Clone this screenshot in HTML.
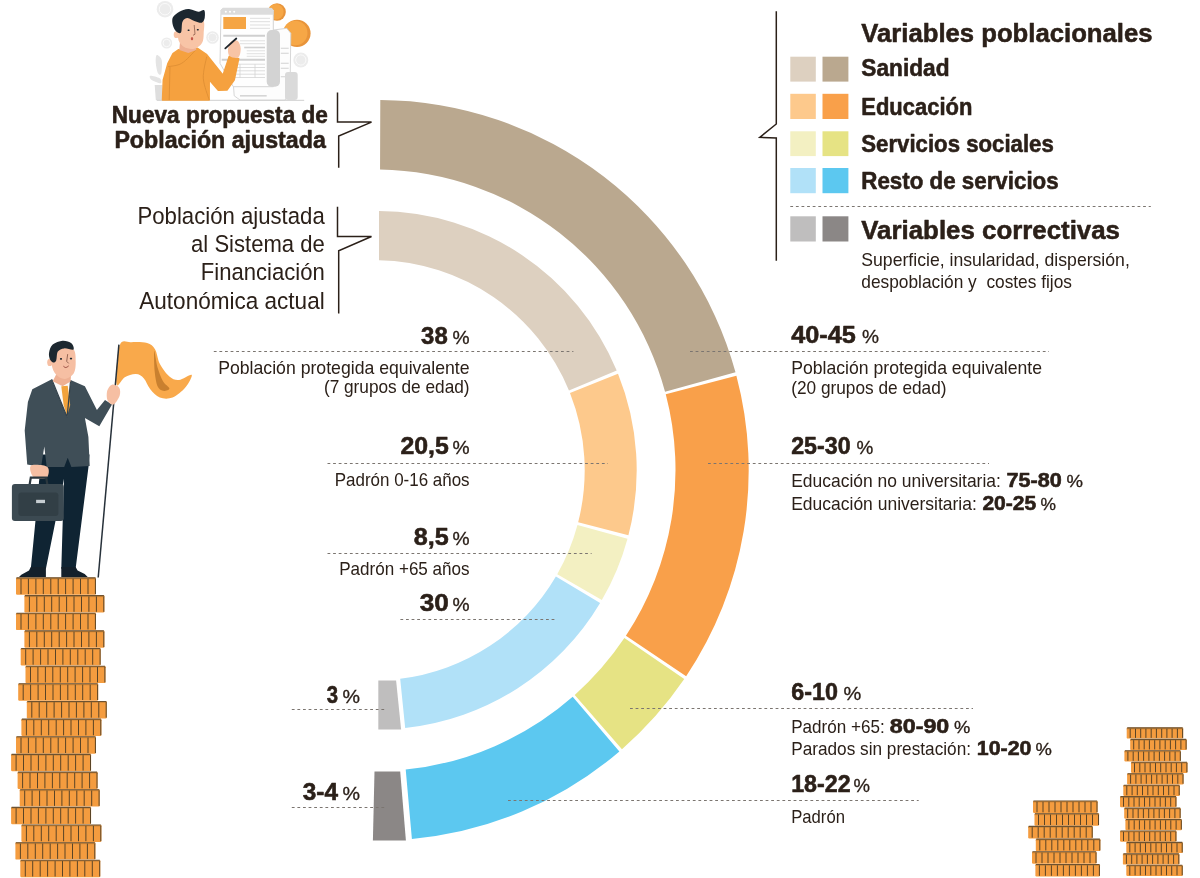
<!DOCTYPE html>
<html lang="es"><head><meta charset="utf-8"><title>Población ajustada</title>
<style>
html,body{margin:0;padding:0;background:#fff;}
body{width:1200px;height:878px;overflow:hidden;}
svg{display:block;}
text{font-family:"Liberation Sans",sans-serif;fill:#2b2019;}
.p{stroke:#2b2019;stroke-width:.3px;}
.b{font-weight:bold;stroke:#2b2019;stroke-width:.55px;stroke-linejoin:round;}
</style></head><body>
<svg width="1200" height="878" viewBox="0 0 1200 878">
<path d="M380.29 100.10A370.2 370.2 0 0 1 735.50 372.34L665.05 391.70A300.9 300.9 0 0 0 380.05 169.45Z" fill="#baa88f"/>
<path d="M736.39 375.64A370.2 370.2 0 0 1 686.16 676.20L625.90 635.80A300.9 300.9 0 0 0 665.76 394.35Z" fill="#f9a04a"/>
<path d="M684.25 679.03A370.2 370.2 0 0 1 621.97 749.17L574.75 694.98A300.9 300.9 0 0 0 624.37 638.09Z" fill="#e6e384"/>
<path d="M619.39 751.41A370.2 370.2 0 0 1 411.90 838.99L405.71 769.59A300.9 300.9 0 0 0 572.69 696.80Z" fill="#5cc8f0"/>
<path d="M379.00 211.10A259.2 259.2 0 0 1 616.71 370.48L568.97 390.53A210.1 210.1 0 0 0 379.00 260.25Z" fill="#ddd0c0"/>
<path d="M618.00 373.63A259.2 259.2 0 0 1 628.40 535.36L578.17 522.26A210.1 210.1 0 0 0 569.98 393.05Z" fill="#fdc98c"/>
<path d="M627.52 538.65A259.2 259.2 0 0 1 601.85 600.11L557.25 574.13A210.1 210.1 0 0 0 577.48 524.89Z" fill="#f3f0c2"/>
<path d="M600.12 603.05A259.2 259.2 0 0 1 405.18 728.02L400.18 678.84A210.1 210.1 0 0 0 555.89 576.49Z" fill="#b1e1f8"/>
<polygon points="378.3,680.5 396.1,680.5 401.1,729.4 378.3,729.4" fill="#bfbebe"/>
<polygon points="374.5,771.5 400.2,771.5 405.9,840.5 372.9,840.5" fill="#8b8786"/>
<line x1="213.8" y1="351.5" x2="573.4" y2="351.5" stroke="#7b7570" stroke-width="1" stroke-dasharray="2.8 2.8"/>
<line x1="690" y1="351.5" x2="1049" y2="351.5" stroke="#7b7570" stroke-width="1" stroke-dasharray="2.8 2.8"/>
<line x1="327.5" y1="463.5" x2="608" y2="463.5" stroke="#7b7570" stroke-width="1" stroke-dasharray="2.8 2.8"/>
<line x1="708" y1="463.5" x2="989" y2="463.5" stroke="#7b7570" stroke-width="1" stroke-dasharray="2.8 2.8"/>
<line x1="327.5" y1="553.5" x2="591.6" y2="553.5" stroke="#7b7570" stroke-width="1" stroke-dasharray="2.8 2.8"/>
<line x1="400.4" y1="619.5" x2="555.2" y2="619.5" stroke="#7b7570" stroke-width="1" stroke-dasharray="2.8 2.8"/>
<line x1="291.8" y1="709.5" x2="384.3" y2="709.5" stroke="#7b7570" stroke-width="1" stroke-dasharray="2.8 2.8"/>
<line x1="630" y1="708.5" x2="973" y2="708.5" stroke="#7b7570" stroke-width="1" stroke-dasharray="2.8 2.8"/>
<line x1="291.8" y1="807.5" x2="384.3" y2="807.5" stroke="#7b7570" stroke-width="1" stroke-dasharray="2.8 2.8"/>
<line x1="508" y1="800.5" x2="918.7" y2="800.5" stroke="#7b7570" stroke-width="1" stroke-dasharray="2.8 2.8"/>
<line x1="790.3" y1="206.5" x2="1150.8" y2="206.5" stroke="#7b7570" stroke-width="1" stroke-dasharray="2.8 2.8"/>
<text x="111.8" y="123.3" font-size="23.2" class="b" textLength="216.1" lengthAdjust="spacingAndGlyphs">Nueva propuesta de</text>
<text x="114.4" y="148.1" font-size="23.6" class="b" textLength="211.4" lengthAdjust="spacingAndGlyphs">Población ajustada</text>
<text x="137.5" y="224.1" font-size="24.3" textLength="187.2" lengthAdjust="spacingAndGlyphs">Población ajustada</text>
<text x="191.1" y="252.4" font-size="24.3" textLength="133.6" lengthAdjust="spacingAndGlyphs">al Sistema de</text>
<text x="200.8" y="280.4" font-size="24.3" textLength="123.9" lengthAdjust="spacingAndGlyphs">Financiación</text>
<text x="139.3" y="308.7" font-size="24.3" textLength="185.4" lengthAdjust="spacingAndGlyphs">Autonómica actual</text>
<text x="421.1" y="343.5" font-size="23.6" class="b" textLength="26.6" lengthAdjust="spacingAndGlyphs">38</text>
<text x="452.5" y="343.5" font-size="19" class="p" textLength="17.1" lengthAdjust="spacingAndGlyphs">%</text>
<text x="218.2" y="373.8" font-size="18.4" textLength="251.4" lengthAdjust="spacingAndGlyphs">Población protegida equivalente</text>
<text x="323.9" y="393" font-size="18.4" textLength="145.7" lengthAdjust="spacingAndGlyphs">(7 grupos de edad)</text>
<text x="400.4" y="453.9" font-size="23.6" class="b" textLength="48.4" lengthAdjust="spacingAndGlyphs">20,5</text>
<text x="452.5" y="453.9" font-size="19" class="p" textLength="17.1" lengthAdjust="spacingAndGlyphs">%</text>
<text x="334.8" y="485.6" font-size="18.4" textLength="134.8" lengthAdjust="spacingAndGlyphs">Padrón 0-16 años</text>
<text x="413.8" y="545" font-size="23.6" class="b" textLength="35.0" lengthAdjust="spacingAndGlyphs">8,5</text>
<text x="452.5" y="545" font-size="19" class="p" textLength="17.1" lengthAdjust="spacingAndGlyphs">%</text>
<text x="339.2" y="574.8" font-size="18.4" textLength="130.4" lengthAdjust="spacingAndGlyphs">Padrón +65 años</text>
<text x="419.7" y="610.5" font-size="23.6" class="b" textLength="29.1" lengthAdjust="spacingAndGlyphs">30</text>
<text x="452.5" y="610.5" font-size="19" class="p" textLength="17.1" lengthAdjust="spacingAndGlyphs">%</text>
<text x="326.7" y="702.6" font-size="23.6" class="b" textLength="11.3" lengthAdjust="spacingAndGlyphs">3</text>
<text x="342.6" y="702.6" font-size="19" class="p" textLength="17.5" lengthAdjust="spacingAndGlyphs">%</text>
<text x="302.8" y="800" font-size="23.6" class="b" textLength="35.2" lengthAdjust="spacingAndGlyphs">3-4</text>
<text x="342.6" y="800" font-size="19" class="p" textLength="17.5" lengthAdjust="spacingAndGlyphs">%</text>
<text x="791.2" y="343.4" font-size="23.6" class="b" textLength="64.6" lengthAdjust="spacingAndGlyphs">40-45</text>
<text x="862" y="343.4" font-size="19" class="p" textLength="17.0" lengthAdjust="spacingAndGlyphs">%</text>
<text x="791.2" y="373.8" font-size="18.4" textLength="250.8" lengthAdjust="spacingAndGlyphs">Población protegida equivalente</text>
<text x="791.2" y="394.4" font-size="18.4" textLength="155.3" lengthAdjust="spacingAndGlyphs">(20 grupos de edad)</text>
<text x="791.2" y="454" font-size="23.6" class="b" textLength="59.5" lengthAdjust="spacingAndGlyphs">25-30</text>
<text x="856.5" y="454" font-size="19" class="p" textLength="16.8" lengthAdjust="spacingAndGlyphs">%</text>
<text x="791.2" y="487.1" font-size="18.4" textLength="209.7" lengthAdjust="spacingAndGlyphs">Educación no universitaria:</text>
<text x="1006.5" y="487.1" font-size="19.4" class="b" textLength="55.3" lengthAdjust="spacingAndGlyphs">75-80</text>
<text x="1066.5" y="487.1" font-size="17" class="p" textLength="16.5" lengthAdjust="spacingAndGlyphs">%</text>
<text x="791.2" y="509.8" font-size="18.4" textLength="185.6" lengthAdjust="spacingAndGlyphs">Educación universitaria:</text>
<text x="982.4" y="509.8" font-size="19.4" class="b" textLength="53.9" lengthAdjust="spacingAndGlyphs">20-25</text>
<text x="1040.5" y="509.8" font-size="17" class="p" textLength="15.5" lengthAdjust="spacingAndGlyphs">%</text>
<text x="791.2" y="700.3" font-size="23.6" class="b" textLength="46.7" lengthAdjust="spacingAndGlyphs">6-10</text>
<text x="843.6" y="700.3" font-size="19" class="p" textLength="17.8" lengthAdjust="spacingAndGlyphs">%</text>
<text x="791.2" y="732.9" font-size="18.4" textLength="93.5" lengthAdjust="spacingAndGlyphs">Padrón +65:</text>
<text x="889.8" y="732.9" font-size="19.4" class="b" textLength="59.5" lengthAdjust="spacingAndGlyphs">80-90</text>
<text x="954" y="732.9" font-size="17" class="p" textLength="16.3" lengthAdjust="spacingAndGlyphs">%</text>
<text x="791.2" y="755" font-size="18.4" textLength="179.8" lengthAdjust="spacingAndGlyphs">Parados sin prestación:</text>
<text x="976.8" y="755" font-size="19.4" class="b" textLength="54.7" lengthAdjust="spacingAndGlyphs">10-20</text>
<text x="1035.5" y="755" font-size="17" class="p" textLength="16.4" lengthAdjust="spacingAndGlyphs">%</text>
<text x="791.2" y="792.4" font-size="23.6" class="b" textLength="59.5" lengthAdjust="spacingAndGlyphs">18-22</text>
<text x="853.5" y="792.4" font-size="19" class="p" textLength="16.5" lengthAdjust="spacingAndGlyphs">%</text>
<text x="791.2" y="823" font-size="18.4" textLength="53.8" lengthAdjust="spacingAndGlyphs">Padrón</text>
<text x="861.3" y="42" font-size="26.4" class="b" textLength="291.2" lengthAdjust="spacingAndGlyphs">Variables poblacionales</text>
<text x="861.3" y="76.3" font-size="23.6" class="b" textLength="88.2" lengthAdjust="spacingAndGlyphs">Sanidad</text>
<text x="861.3" y="114.8" font-size="23.6" class="b" textLength="111.0" lengthAdjust="spacingAndGlyphs">Educación</text>
<text x="861.3" y="151.6" font-size="23.6" class="b" textLength="192.5" lengthAdjust="spacingAndGlyphs">Servicios sociales</text>
<text x="861.3" y="189" font-size="23.6" class="b" textLength="197.4" lengthAdjust="spacingAndGlyphs">Resto de servicios</text>
<text x="861.3" y="238.7" font-size="26.4" class="b" textLength="258.7" lengthAdjust="spacingAndGlyphs">Variables correctivas</text>
<text x="861.3" y="266" font-size="18.4" textLength="268.5" lengthAdjust="spacingAndGlyphs">Superficie, insularidad, dispersión,</text>
<text x="861.3" y="287.7" font-size="18.4" textLength="210.7" lengthAdjust="spacingAndGlyphs">despoblación y  costes fijos</text>
<rect x="790.3" y="56.7" width="25.5" height="24.9" fill="#ddd0c0"/>
<rect x="822.5" y="56.7" width="25.9" height="24.9" fill="#baa88f"/>
<rect x="790.3" y="93.8" width="25.5" height="25.2" fill="#fdc98c"/>
<rect x="822.5" y="93.8" width="25.9" height="25.2" fill="#f9a04a"/>
<rect x="790.3" y="131.3" width="25.5" height="24.8" fill="#f3f0c2"/>
<rect x="822.5" y="131.3" width="25.9" height="24.8" fill="#e6e384"/>
<rect x="790.3" y="168" width="25.5" height="25.2" fill="#b1e1f8"/>
<rect x="822.5" y="168" width="25.9" height="25.2" fill="#5cc8f0"/>
<rect x="790.3" y="216.3" width="25.5" height="25.2" fill="#bfbebe"/>
<rect x="822.5" y="216.3" width="25.9" height="25.2" fill="#8b8786"/>
<path d="M776.3 11.2V124L759.8 137.3L776.3 138V260.8" fill="none" stroke="#2b2019" stroke-width="1.5" stroke-linejoin="miter"/>
<path d="M337.5 92.5V122.1H371.5L338.7 136V167.7" fill="none" stroke="#2b2019" stroke-width="1.5" stroke-linejoin="miter"/>
<path d="M337.5 206.8V236.5H371.5L338.7 250.8V313.5" fill="none" stroke="#2b2019" stroke-width="1.5" stroke-linejoin="miter"/>
<rect x="16.0" y="577.8" width="80" height="17.0" rx="1.2" fill="#f49c3f"/>
<rect x="16.0" y="577.8" width="80" height="1.6" fill="#c98436" opacity=".75"/>
<rect x="24.4" y="595.5" width="80" height="17.0" rx="1.2" fill="#f49c3f"/>
<rect x="24.4" y="595.5" width="80" height="1.6" fill="#c98436" opacity=".75"/>
<rect x="16.0" y="613.1" width="80" height="17.0" rx="1.2" fill="#f49c3f"/>
<rect x="16.0" y="613.1" width="80" height="1.6" fill="#c98436" opacity=".75"/>
<rect x="24.4" y="630.8" width="80" height="17.0" rx="1.2" fill="#f49c3f"/>
<rect x="24.4" y="630.8" width="80" height="1.6" fill="#c98436" opacity=".75"/>
<rect x="20.7" y="648.4" width="80" height="17.0" rx="1.2" fill="#f49c3f"/>
<rect x="20.7" y="648.4" width="80" height="1.6" fill="#c98436" opacity=".75"/>
<rect x="25.5" y="666.1" width="80" height="17.0" rx="1.2" fill="#f49c3f"/>
<rect x="25.5" y="666.1" width="80" height="1.6" fill="#c98436" opacity=".75"/>
<rect x="18.2" y="683.7" width="80" height="17.0" rx="1.2" fill="#f49c3f"/>
<rect x="18.2" y="683.7" width="80" height="1.6" fill="#c98436" opacity=".75"/>
<rect x="26.8" y="701.4" width="80" height="17.0" rx="1.2" fill="#f49c3f"/>
<rect x="26.8" y="701.4" width="80" height="1.6" fill="#c98436" opacity=".75"/>
<rect x="21.4" y="719.0" width="80" height="17.0" rx="1.2" fill="#f49c3f"/>
<rect x="21.4" y="719.0" width="80" height="1.6" fill="#c98436" opacity=".75"/>
<rect x="16.0" y="736.7" width="80" height="17.0" rx="1.2" fill="#f49c3f"/>
<rect x="16.0" y="736.7" width="80" height="1.6" fill="#c98436" opacity=".75"/>
<rect x="11.1" y="754.3" width="80" height="17.0" rx="1.2" fill="#f49c3f"/>
<rect x="11.1" y="754.3" width="80" height="1.6" fill="#c98436" opacity=".75"/>
<rect x="17.6" y="772.0" width="80" height="17.0" rx="1.2" fill="#f49c3f"/>
<rect x="17.6" y="772.0" width="80" height="1.6" fill="#c98436" opacity=".75"/>
<rect x="19.7" y="789.6" width="80" height="17.0" rx="1.2" fill="#f49c3f"/>
<rect x="19.7" y="789.6" width="80" height="1.6" fill="#c98436" opacity=".75"/>
<rect x="11.1" y="807.3" width="80" height="17.0" rx="1.2" fill="#f49c3f"/>
<rect x="11.1" y="807.3" width="80" height="1.6" fill="#c98436" opacity=".75"/>
<rect x="21.4" y="824.9" width="80" height="17.0" rx="1.2" fill="#f49c3f"/>
<rect x="21.4" y="824.9" width="80" height="1.6" fill="#c98436" opacity=".75"/>
<rect x="15.4" y="842.6" width="80" height="17.0" rx="1.2" fill="#f49c3f"/>
<rect x="15.4" y="842.6" width="80" height="1.6" fill="#c98436" opacity=".75"/>
<rect x="20.3" y="860.2" width="80" height="17.0" rx="1.2" fill="#f49c3f"/>
<rect x="20.3" y="860.2" width="80" height="1.6" fill="#c98436" opacity=".75"/>
<path d="M21.0 578.7v15.4M28.4 578.7v15.4M35.9 578.7v15.4M43.3 578.7v15.4M50.8 578.7v15.4M58.2 578.7v15.4M65.6 578.7v15.4M73.1 578.7v15.4M80.5 578.7v15.4M88.0 578.7v15.4M95.4 578.7v15.4M29.4 596.4v15.4M36.8 596.4v15.4M44.3 596.4v15.4M51.7 596.4v15.4M59.2 596.4v15.4M66.6 596.4v15.4M74.0 596.4v15.4M81.5 596.4v15.4M88.9 596.4v15.4M96.4 596.4v15.4M103.8 596.4v15.4M21.0 614.0v15.4M28.4 614.0v15.4M35.9 614.0v15.4M43.3 614.0v15.4M50.8 614.0v15.4M58.2 614.0v15.4M65.6 614.0v15.4M73.1 614.0v15.4M80.5 614.0v15.4M88.0 614.0v15.4M95.4 614.0v15.4M29.4 631.7v15.4M36.8 631.7v15.4M44.3 631.7v15.4M51.7 631.7v15.4M59.2 631.7v15.4M66.6 631.7v15.4M74.0 631.7v15.4M81.5 631.7v15.4M88.9 631.7v15.4M96.4 631.7v15.4M103.8 631.7v15.4M25.7 649.3v15.4M33.1 649.3v15.4M40.6 649.3v15.4M48.0 649.3v15.4M55.5 649.3v15.4M62.9 649.3v15.4M70.3 649.3v15.4M77.8 649.3v15.4M85.2 649.3v15.4M92.7 649.3v15.4M100.1 649.3v15.4M30.5 667.0v15.4M37.9 667.0v15.4M45.4 667.0v15.4M52.8 667.0v15.4M60.3 667.0v15.4M67.7 667.0v15.4M75.1 667.0v15.4M82.6 667.0v15.4M90.0 667.0v15.4M97.5 667.0v15.4M104.9 667.0v15.4M23.2 684.6v15.4M30.6 684.6v15.4M38.1 684.6v15.4M45.5 684.6v15.4M53.0 684.6v15.4M60.4 684.6v15.4M67.8 684.6v15.4M75.3 684.6v15.4M82.7 684.6v15.4M90.2 684.6v15.4M97.6 684.6v15.4M31.8 702.2v15.4M39.2 702.2v15.4M46.7 702.2v15.4M54.1 702.2v15.4M61.6 702.2v15.4M69.0 702.2v15.4M76.4 702.2v15.4M83.9 702.2v15.4M91.3 702.2v15.4M98.8 702.2v15.4M106.2 702.2v15.4M26.4 719.9v15.4M33.8 719.9v15.4M41.3 719.9v15.4M48.7 719.9v15.4M56.2 719.9v15.4M63.6 719.9v15.4M71.0 719.9v15.4M78.5 719.9v15.4M85.9 719.9v15.4M93.4 719.9v15.4M100.8 719.9v15.4M21.0 737.6v15.4M28.4 737.6v15.4M35.9 737.6v15.4M43.3 737.6v15.4M50.8 737.6v15.4M58.2 737.6v15.4M65.6 737.6v15.4M73.1 737.6v15.4M80.5 737.6v15.4M88.0 737.6v15.4M95.4 737.6v15.4M16.1 755.2v15.4M23.5 755.2v15.4M31.0 755.2v15.4M38.4 755.2v15.4M45.9 755.2v15.4M53.3 755.2v15.4M60.7 755.2v15.4M68.2 755.2v15.4M75.6 755.2v15.4M83.1 755.2v15.4M90.5 755.2v15.4M22.6 772.9v15.4M30.0 772.9v15.4M37.5 772.9v15.4M44.9 772.9v15.4M52.4 772.9v15.4M59.8 772.9v15.4M67.2 772.9v15.4M74.7 772.9v15.4M82.1 772.9v15.4M89.6 772.9v15.4M97.0 772.9v15.4M24.7 790.5v15.4M32.1 790.5v15.4M39.6 790.5v15.4M47.0 790.5v15.4M54.5 790.5v15.4M61.9 790.5v15.4M69.3 790.5v15.4M76.8 790.5v15.4M84.2 790.5v15.4M91.7 790.5v15.4M99.1 790.5v15.4M16.1 808.2v15.4M23.5 808.2v15.4M31.0 808.2v15.4M38.4 808.2v15.4M45.9 808.2v15.4M53.3 808.2v15.4M60.7 808.2v15.4M68.2 808.2v15.4M75.6 808.2v15.4M83.1 808.2v15.4M90.5 808.2v15.4M26.4 825.8v15.4M33.8 825.8v15.4M41.3 825.8v15.4M48.7 825.8v15.4M56.2 825.8v15.4M63.6 825.8v15.4M71.0 825.8v15.4M78.5 825.8v15.4M85.9 825.8v15.4M93.4 825.8v15.4M100.8 825.8v15.4M20.4 843.5v15.4M27.8 843.5v15.4M35.3 843.5v15.4M42.7 843.5v15.4M50.2 843.5v15.4M57.6 843.5v15.4M65.0 843.5v15.4M72.5 843.5v15.4M79.9 843.5v15.4M87.4 843.5v15.4M94.8 843.5v15.4M25.3 861.1v15.4M32.7 861.1v15.4M40.2 861.1v15.4M47.6 861.1v15.4M55.1 861.1v15.4M62.5 861.1v15.4M69.9 861.1v15.4M77.4 861.1v15.4M84.8 861.1v15.4M92.3 861.1v15.4M99.7 861.1v15.4" stroke="#5a4426" stroke-width="1" fill="none"/>
<path d="M16.5 577.9h79M24.9 595.6h79M16.5 613.2h79M24.9 630.9h79M21.2 648.5h79M26.0 666.2h79M18.7 683.8h79M27.3 701.5h79M21.9 719.1h79M16.5 736.8h79M11.6 754.4h79M18.1 772.1h79M20.2 789.7h79M11.6 807.4h79M21.9 825.0h79M15.9 842.7h79M20.8 860.3h79" stroke="#6e5230" stroke-width="1.1" fill="none"/>
<rect x="1033.0" y="800.9" width="64.6" height="12.1" rx="1.2" fill="#f49c3f"/>
<rect x="1033.0" y="800.9" width="64.6" height="1.6" fill="#c98436" opacity=".75"/>
<rect x="1034.5" y="813.6" width="64.6" height="12.1" rx="1.2" fill="#f49c3f"/>
<rect x="1034.5" y="813.6" width="64.6" height="1.6" fill="#c98436" opacity=".75"/>
<rect x="1028.2" y="826.3" width="64.6" height="12.1" rx="1.2" fill="#f49c3f"/>
<rect x="1028.2" y="826.3" width="64.6" height="1.6" fill="#c98436" opacity=".75"/>
<rect x="1035.8" y="839.0" width="64.6" height="12.1" rx="1.2" fill="#f49c3f"/>
<rect x="1035.8" y="839.0" width="64.6" height="1.6" fill="#c98436" opacity=".75"/>
<rect x="1032.0" y="851.7" width="64.6" height="12.1" rx="1.2" fill="#f49c3f"/>
<rect x="1032.0" y="851.7" width="64.6" height="1.6" fill="#c98436" opacity=".75"/>
<rect x="1035.4" y="864.4" width="64.6" height="12.1" rx="1.2" fill="#f49c3f"/>
<rect x="1035.4" y="864.4" width="64.6" height="1.6" fill="#c98436" opacity=".75"/>
<path d="M1037.0 801.8v10.5M1043.0 801.8v10.5M1049.0 801.8v10.5M1055.0 801.8v10.5M1061.0 801.8v10.5M1067.0 801.8v10.5M1073.0 801.8v10.5M1079.0 801.8v10.5M1085.0 801.8v10.5M1091.0 801.8v10.5M1097.0 801.8v10.5M1038.5 814.5v10.5M1044.5 814.5v10.5M1050.5 814.5v10.5M1056.5 814.5v10.5M1062.5 814.5v10.5M1068.5 814.5v10.5M1074.5 814.5v10.5M1080.5 814.5v10.5M1086.5 814.5v10.5M1092.5 814.5v10.5M1098.5 814.5v10.5M1032.2 827.2v10.5M1038.2 827.2v10.5M1044.2 827.2v10.5M1050.2 827.2v10.5M1056.2 827.2v10.5M1062.2 827.2v10.5M1068.2 827.2v10.5M1074.2 827.2v10.5M1080.2 827.2v10.5M1086.2 827.2v10.5M1092.2 827.2v10.5M1039.8 839.9v10.5M1045.8 839.9v10.5M1051.8 839.9v10.5M1057.8 839.9v10.5M1063.8 839.9v10.5M1069.8 839.9v10.5M1075.8 839.9v10.5M1081.8 839.9v10.5M1087.8 839.9v10.5M1093.8 839.9v10.5M1099.8 839.9v10.5M1036.0 852.6v10.5M1042.0 852.6v10.5M1048.0 852.6v10.5M1054.0 852.6v10.5M1060.0 852.6v10.5M1066.0 852.6v10.5M1072.0 852.6v10.5M1078.0 852.6v10.5M1084.0 852.6v10.5M1090.0 852.6v10.5M1096.0 852.6v10.5M1039.4 865.3v10.5M1045.4 865.3v10.5M1051.4 865.3v10.5M1057.4 865.3v10.5M1063.4 865.3v10.5M1069.4 865.3v10.5M1075.4 865.3v10.5M1081.4 865.3v10.5M1087.4 865.3v10.5M1093.4 865.3v10.5M1099.4 865.3v10.5" stroke="#5a4426" stroke-width="1" fill="none"/>
<path d="M1033.5 801.0h63.599999999999994M1035.0 813.7h63.599999999999994M1028.7 826.4h63.599999999999994M1036.3 839.1h63.599999999999994M1032.5 851.8h63.599999999999994M1035.9 864.5h63.599999999999994" stroke="#6e5230" stroke-width="1.1" fill="none"/>
<rect x="1126.7" y="727.8" width="56.5" height="10.8" rx="1.2" fill="#f49c3f"/>
<rect x="1126.7" y="727.8" width="56.5" height="1.6" fill="#c98436" opacity=".75"/>
<rect x="1130.2" y="739.3" width="56.5" height="10.8" rx="1.2" fill="#f49c3f"/>
<rect x="1130.2" y="739.3" width="56.5" height="1.6" fill="#c98436" opacity=".75"/>
<rect x="1124.4" y="750.7" width="56.5" height="10.8" rx="1.2" fill="#f49c3f"/>
<rect x="1124.4" y="750.7" width="56.5" height="1.6" fill="#c98436" opacity=".75"/>
<rect x="1131.0" y="762.2" width="56.5" height="10.8" rx="1.2" fill="#f49c3f"/>
<rect x="1131.0" y="762.2" width="56.5" height="1.6" fill="#c98436" opacity=".75"/>
<rect x="1127.1" y="773.6" width="56.5" height="10.8" rx="1.2" fill="#f49c3f"/>
<rect x="1127.1" y="773.6" width="56.5" height="1.6" fill="#c98436" opacity=".75"/>
<rect x="1123.3" y="785.1" width="56.5" height="10.8" rx="1.2" fill="#f49c3f"/>
<rect x="1123.3" y="785.1" width="56.5" height="1.6" fill="#c98436" opacity=".75"/>
<rect x="1120.0" y="796.5" width="56.5" height="10.8" rx="1.2" fill="#f49c3f"/>
<rect x="1120.0" y="796.5" width="56.5" height="1.6" fill="#c98436" opacity=".75"/>
<rect x="1124.2" y="808.0" width="56.5" height="10.8" rx="1.2" fill="#f49c3f"/>
<rect x="1124.2" y="808.0" width="56.5" height="1.6" fill="#c98436" opacity=".75"/>
<rect x="1125.4" y="819.4" width="56.5" height="10.8" rx="1.2" fill="#f49c3f"/>
<rect x="1125.4" y="819.4" width="56.5" height="1.6" fill="#c98436" opacity=".75"/>
<rect x="1120.0" y="830.9" width="56.5" height="10.8" rx="1.2" fill="#f49c3f"/>
<rect x="1120.0" y="830.9" width="56.5" height="1.6" fill="#c98436" opacity=".75"/>
<rect x="1126.3" y="842.3" width="56.5" height="10.8" rx="1.2" fill="#f49c3f"/>
<rect x="1126.3" y="842.3" width="56.5" height="1.6" fill="#c98436" opacity=".75"/>
<rect x="1122.9" y="853.8" width="56.5" height="10.8" rx="1.2" fill="#f49c3f"/>
<rect x="1122.9" y="853.8" width="56.5" height="1.6" fill="#c98436" opacity=".75"/>
<rect x="1126.3" y="865.2" width="56.5" height="10.8" rx="1.2" fill="#f49c3f"/>
<rect x="1126.3" y="865.2" width="56.5" height="1.6" fill="#c98436" opacity=".75"/>
<path d="M1130.2 728.7v9.2M1135.5 728.7v9.2M1140.7 728.7v9.2M1145.9 728.7v9.2M1151.2 728.7v9.2M1156.4 728.7v9.2M1161.7 728.7v9.2M1166.9 728.7v9.2M1172.1 728.7v9.2M1177.4 728.7v9.2M1182.6 728.7v9.2M1133.7 740.2v9.2M1139.0 740.2v9.2M1144.2 740.2v9.2M1149.4 740.2v9.2M1154.7 740.2v9.2M1159.9 740.2v9.2M1165.2 740.2v9.2M1170.4 740.2v9.2M1175.6 740.2v9.2M1180.9 740.2v9.2M1186.1 740.2v9.2M1127.9 751.6v9.2M1133.2 751.6v9.2M1138.4 751.6v9.2M1143.6 751.6v9.2M1148.9 751.6v9.2M1154.1 751.6v9.2M1159.4 751.6v9.2M1164.6 751.6v9.2M1169.8 751.6v9.2M1175.1 751.6v9.2M1180.3 751.6v9.2M1134.5 763.1v9.2M1139.8 763.1v9.2M1145.0 763.1v9.2M1150.2 763.1v9.2M1155.5 763.1v9.2M1160.7 763.1v9.2M1166.0 763.1v9.2M1171.2 763.1v9.2M1176.4 763.1v9.2M1181.7 763.1v9.2M1186.9 763.1v9.2M1130.6 774.5v9.2M1135.9 774.5v9.2M1141.1 774.5v9.2M1146.3 774.5v9.2M1151.6 774.5v9.2M1156.8 774.5v9.2M1162.1 774.5v9.2M1167.3 774.5v9.2M1172.5 774.5v9.2M1177.8 774.5v9.2M1183.0 774.5v9.2M1126.8 786.0v9.2M1132.1 786.0v9.2M1137.3 786.0v9.2M1142.5 786.0v9.2M1147.8 786.0v9.2M1153.0 786.0v9.2M1158.3 786.0v9.2M1163.5 786.0v9.2M1168.7 786.0v9.2M1174.0 786.0v9.2M1179.2 786.0v9.2M1123.5 797.4v9.2M1128.8 797.4v9.2M1134.0 797.4v9.2M1139.2 797.4v9.2M1144.5 797.4v9.2M1149.7 797.4v9.2M1155.0 797.4v9.2M1160.2 797.4v9.2M1165.4 797.4v9.2M1170.7 797.4v9.2M1175.9 797.4v9.2M1127.7 808.9v9.2M1133.0 808.9v9.2M1138.2 808.9v9.2M1143.4 808.9v9.2M1148.7 808.9v9.2M1153.9 808.9v9.2M1159.2 808.9v9.2M1164.4 808.9v9.2M1169.6 808.9v9.2M1174.9 808.9v9.2M1180.1 808.9v9.2M1128.9 820.3v9.2M1134.2 820.3v9.2M1139.4 820.3v9.2M1144.6 820.3v9.2M1149.9 820.3v9.2M1155.1 820.3v9.2M1160.4 820.3v9.2M1165.6 820.3v9.2M1170.8 820.3v9.2M1176.1 820.3v9.2M1181.3 820.3v9.2M1123.5 831.8v9.2M1128.8 831.8v9.2M1134.0 831.8v9.2M1139.2 831.8v9.2M1144.5 831.8v9.2M1149.7 831.8v9.2M1155.0 831.8v9.2M1160.2 831.8v9.2M1165.4 831.8v9.2M1170.7 831.8v9.2M1175.9 831.8v9.2M1129.8 843.2v9.2M1135.1 843.2v9.2M1140.3 843.2v9.2M1145.5 843.2v9.2M1150.8 843.2v9.2M1156.0 843.2v9.2M1161.3 843.2v9.2M1166.5 843.2v9.2M1171.7 843.2v9.2M1177.0 843.2v9.2M1182.2 843.2v9.2M1126.4 854.7v9.2M1131.7 854.7v9.2M1136.9 854.7v9.2M1142.1 854.7v9.2M1147.4 854.7v9.2M1152.6 854.7v9.2M1157.9 854.7v9.2M1163.1 854.7v9.2M1168.3 854.7v9.2M1173.6 854.7v9.2M1178.8 854.7v9.2M1129.8 866.1v9.2M1135.1 866.1v9.2M1140.3 866.1v9.2M1145.5 866.1v9.2M1150.8 866.1v9.2M1156.0 866.1v9.2M1161.3 866.1v9.2M1166.5 866.1v9.2M1171.7 866.1v9.2M1177.0 866.1v9.2M1182.2 866.1v9.2" stroke="#5a4426" stroke-width="1" fill="none"/>
<path d="M1127.2 727.9h55.5M1130.7 739.4h55.5M1124.9 750.8h55.5M1131.5 762.3h55.5M1127.6 773.7h55.5M1123.8 785.2h55.5M1120.5 796.6h55.5M1124.7 808.1h55.5M1125.9 819.5h55.5M1120.5 831.0h55.5M1126.8 842.4h55.5M1123.4 853.9h55.5M1126.8 865.3h55.5" stroke="#6e5230" stroke-width="1.1" fill="none"/>
<g id="bizman">
<path d="M119.7 345.5C122.1 338.5 126.6 342.6 131.1 342.2C135.7 341.7 143.1 341.8 147.1 343.0C151.1 344.2 152.9 345.9 155.0 349.3C157.2 352.8 157.4 359.2 159.8 363.7C162.2 368.2 166.2 373.7 169.4 376.4C172.6 379.2 175.2 380.2 179.0 379.9C182.7 379.7 190.6 373.6 191.7 374.8C192.8 376.1 188.5 383.8 185.3 387.6C182.1 391.4 176.8 395.8 172.6 397.5C168.3 399.1 163.5 398.9 159.8 397.5C156.1 396.1 152.9 392.4 150.3 389.2C147.6 386.0 146.3 380.9 143.9 378.4C141.5 375.8 139.1 374.2 135.9 374.1C132.7 373.9 128.0 375.6 124.8 377.2C121.5 378.9 117.3 389.4 116.5 384.1C115.6 378.8 117.2 352.5 119.7 345.5Z" fill="#f9a94b"/>
<path d="M154.2 350.9C154.7 350.1 156.0 361.8 157.4 366.9C158.9 371.9 161.0 377.6 163.0 381.2C165.0 384.8 169.4 386.8 169.4 388.4C169.4 390.0 165.0 391.2 163.0 390.8C161.0 390.4 158.8 389.2 157.4 386.0C156.1 382.8 155.3 377.5 154.7 371.7C154.2 365.8 153.8 351.7 154.2 350.9Z" fill="#c9802f"/>
<line x1="118.9" y1="344.6" x2="98.2" y2="577.5" stroke="#27313a" stroke-width="1.5"/>
<path d="M41.5 454.4L89.5 454.4L88.6 466.0L75.6 568.8L61.3 568.8L64.0 478.7L45.9 568.8L30.8 568.8L35.6 519.6Z" fill="#0f2433"/>
<path d="M30.8 567.0L45.9 567.0L45.9 577.1L19.0 577.1L21.3 574.7L29.0 570.6Z" fill="#13202b"/>
<path d="M61.3 567.0L75.6 567.0L77.6 570.6L84.7 574.1L87.7 577.1L61.3 577.1Z" fill="#13202b"/>
<path d="M51.8 379.3L32.3 389.2L27.9 401.9L24.7 430.6L27.2 464.4L41.1 467.0L44.3 446.6L46.7 467.0L64.2 467.0L67.7 457.7L71.4 467.0L89.7 466.0L88.4 437.0L84.9 417.9L99.3 426.2L112.0 404.5L105.0 400.0L96.9 409.9L84.9 386.3L70.6 379.9L67.1 417.1Z" fill="#3f4e57"/>
<path d="M51.8 379.9L70.6 380.3L67.1 417.1Z" fill="#fbfbfb"/>
<path d="M61.3 386.3L67.7 385.7L70.2 405.1L67.1 416.0L63.6 405.1Z" fill="#f2a33c"/>
<path d="M51.8 379.6L67.1 417.1L70.6 380.3" fill="none" stroke="#33414a" stroke-width="1.2"/>
<path d="M57.2 372.6L71.2 372.6L70.6 381.5L62.6 386.3L52.7 381.2Z" fill="#eeb093"/>
<path d="M52.7 354.1C54.5 351.2 59.1 348.2 62.6 347.4C66.1 346.7 71.6 347.2 73.8 349.7C75.9 352.1 75.7 358.2 75.7 362.1C75.7 366.0 75.5 370.4 73.8 373.3C72.0 376.1 67.9 378.7 65.0 379.0C62.1 379.3 58.4 377.1 56.2 374.8C54.0 372.6 52.3 368.7 51.8 365.3C51.2 361.8 50.9 357.1 52.7 354.1Z" fill="#f6bfa3"/>
<ellipse cx="49.8" cy="362.4" rx="2.6" ry="3.6" fill="#f6bfa3"/>
<path d="M49.1 352.5C49.5 350.1 50.5 346.5 52.7 344.6C55.0 342.6 59.5 341.0 62.6 340.7C65.7 340.5 69.6 341.8 71.4 343.3C73.2 344.8 74.6 348.8 73.4 349.7C72.2 350.5 66.8 348.1 64.2 348.4C61.6 348.7 59.1 349.6 57.8 351.6C56.5 353.6 57.0 358.7 56.2 360.5C55.4 362.3 54.1 362.7 53.0 362.4C52.0 362.1 50.5 360.6 49.8 358.9C49.2 357.3 48.6 354.9 49.1 352.5Z" fill="#1d2830"/>
<path d="M60.7 358.9L61.3 358.9M70.6 358.6h.8" stroke="#1d2830" stroke-width="1.6" stroke-linecap="round" fill="none"/>
<path d="M67.7 354.1L66.7 361.3L68.7 363.4" stroke="#7d4f3f" stroke-width=".8" fill="none"/>
<path d="M63.4 366.2C63.8 366.5 64.9 367.6 65.8 367.5C66.7 367.5 68.2 366.2 68.7 365.9" stroke="#8a3b32" stroke-width=".9" fill="none"/>
<path d="M107.5 400.3C106.5 398.1 106.5 393.4 107.2 390.8C108.0 388.2 110.0 385.3 112.0 384.7C114.0 384.2 117.7 385.8 119.0 387.6C120.3 389.4 120.6 392.8 119.7 395.6C118.8 398.4 115.6 403.7 113.6 404.5C111.6 405.3 108.6 402.6 107.5 400.3Z" fill="#f6bfa3"/>
<path d="M32.0 465.1C34.8 464.2 44.9 464.8 47.4 466.9C49.9 469.0 48.8 475.7 46.8 477.6C44.8 479.4 38.2 479.0 35.6 478.1C32.9 477.3 31.4 474.4 30.8 472.2C30.2 470.0 29.2 466.0 32.0 465.1Z" fill="#f6bfa3"/>
<path d="M29.6 484.7L30.8 477.6L46.2 477.6L47.4 484.7" fill="none" stroke="#2b373e" stroke-width="2.2"/>
<rect x="11.9" y="484.1" width="51.9" height="37.0" rx="3" fill="#3c4a52"/>
<rect x="18.4" y="492.4" width="40.0" height="23.7" rx="3" fill="#323f46"/>
<rect x="36.1" y="499.8" width="8.9" height="3.3" fill="#c6cdd1"/>
</g>
<g id="deskman">
<circle cx="165.0" cy="9.2" r="8.3" fill="#ececec"/>
<circle cx="165.0" cy="9.2" r="5.7" fill="none" stroke="#fafafa" stroke-width="1"/>
<circle cx="166.7" cy="43.0" r="5.5" fill="#ececec"/>
<circle cx="166.7" cy="43.0" r="3.7" fill="none" stroke="#fafafa" stroke-width="1"/>
<circle cx="212.5" cy="37.5" r="6.3" fill="#ececec"/>
<circle cx="212.5" cy="37.5" r="4.3" fill="none" stroke="#fafafa" stroke-width="1"/>
<circle cx="300.8" cy="60.0" r="7.5" fill="#ececec"/>
<circle cx="300.8" cy="60.0" r="5.1" fill="none" stroke="#fafafa" stroke-width="1"/>
<path d="M156.7 55.0C157.6 54.4 160.9 56.9 161.7 60.0C162.4 63.1 161.9 71.1 161.3 73.3C160.7 75.6 158.9 75.0 158.0 73.3C157.1 71.7 156.1 66.4 155.8 63.3C155.6 60.3 155.7 55.6 156.7 55.0Z" fill="#e4e4e4"/>
<path d="M150.3 75.8C151.7 75.6 157.9 77.1 159.7 78.3C161.4 79.6 162.0 83.1 160.7 83.3C159.3 83.6 153.4 81.2 151.7 80.0C149.9 78.8 149.0 76.1 150.3 75.8Z" fill="#e4e4e4"/>
<path d="M154.7 85.0L162.5 85.0L162.0 100.0L155.8 100.0Z" fill="#dedede"/>
<line x1="156.7" y1="100.3" x2="304.2" y2="100.3" stroke="#cfcfcf" stroke-width="1"/>
<circle cx="277.0" cy="12.0" r="8.8" fill="#e8943a"/><circle cx="275.8" cy="11.7" r="7.8" fill="#f6a746"/>
<circle cx="297.0" cy="33.3" r="13.6" fill="#e8943a"/><circle cx="295.3" cy="33.0" r="12.2" fill="#f6a746"/>
<path d="M273.3 30.0L286.7 28.3L290.8 33.3L290.0 93.3L285.0 100.0L240.0 100.0L234.2 95.8L233.3 83.3L273.3 83.3Z" fill="#fdfdfd" stroke="#d2d2d2" stroke-width=".9"/>
<line x1="280.8" y1="48.3" x2="288.7" y2="48.3" stroke="#dcdcdc" stroke-width="1.3"/>
<line x1="280.8" y1="53.3" x2="288.7" y2="53.3" stroke="#dcdcdc" stroke-width="1.3"/>
<line x1="280.8" y1="63.3" x2="288.7" y2="63.3" stroke="#dcdcdc" stroke-width="1.3"/>
<line x1="280.8" y1="68.3" x2="288.7" y2="68.3" stroke="#dcdcdc" stroke-width="1.3"/>
<line x1="280.8" y1="76.7" x2="288.7" y2="76.7" stroke="#dcdcdc" stroke-width="1.3"/>
<line x1="240.0" y1="95.8" x2="266.7" y2="95.8" stroke="#d6d6d6" stroke-width="1.6"/>
<rect x="285.0" y="72.0" width="12.7" height="28.0" rx="3" fill="#dadada"/>
<path d="M222.8 8.3L271.7 8.3L273.3 10.3L273.3 86.7L233.3 86.7L220.0 63.3L221.0 10.3Z" fill="#fefefe" stroke="#cfcfcf" stroke-width=".9"/>
<path d="M222.8 8.3L271.7 8.3L273.3 10.3L273.3 14.7L221.0 14.7L221.0 10.3Z" fill="#dcdcdc"/>
<circle cx="225.8" cy="11.7" r="1" fill="#fff"/>
<circle cx="230.0" cy="11.7" r="1" fill="#fff"/>
<circle cx="234.2" cy="11.7" r="1" fill="#fff"/>
<rect x="223.3" y="17.0" width="22.7" height="12.0" fill="#f5a544"/>
<line x1="250.0" y1="18.3" x2="270.0" y2="18.3" stroke="#dedede" stroke-width="1"/>
<line x1="250.0" y1="21.7" x2="270.0" y2="21.7" stroke="#dedede" stroke-width="1"/>
<line x1="250.0" y1="25.0" x2="270.0" y2="25.0" stroke="#dedede" stroke-width="1"/>
<line x1="250.0" y1="28.3" x2="270.0" y2="28.3" stroke="#dedede" stroke-width="1"/>
<line x1="223.3" y1="35.8" x2="265.0" y2="35.8" stroke="#cfcfcf" stroke-width="2"/>
<line x1="240.0" y1="40.8" x2="265.0" y2="40.8" stroke="#e0e0e0" stroke-width="1"/>
<line x1="240.0" y1="43.7" x2="265.0" y2="43.7" stroke="#e0e0e0" stroke-width="1"/>
<line x1="244.2" y1="47.5" x2="265.0" y2="47.5" stroke="#d0d0d0" stroke-width="1.6"/>
<line x1="246.7" y1="50.8" x2="265.0" y2="50.8" stroke="#e0e0e0" stroke-width="1"/>
<line x1="246.7" y1="53.7" x2="265.0" y2="53.7" stroke="#e0e0e0" stroke-width="1"/>
<line x1="246.7" y1="56.3" x2="265.0" y2="56.3" stroke="#e0e0e0" stroke-width="1"/>
<line x1="221.7" y1="59.7" x2="265.0" y2="59.7" stroke="#cfcfcf" stroke-width="2"/>
<line x1="233.3" y1="64.2" x2="265.0" y2="64.2" stroke="#dddddd" stroke-width="1"/>
<line x1="233.3" y1="67.5" x2="265.0" y2="67.5" stroke="#dddddd" stroke-width="1"/>
<line x1="233.3" y1="70.8" x2="265.0" y2="70.8" stroke="#dddddd" stroke-width="1"/>
<line x1="233.3" y1="74.2" x2="265.0" y2="74.2" stroke="#dddddd" stroke-width="1"/>
<line x1="233.3" y1="77.5" x2="265.0" y2="77.5" stroke="#dddddd" stroke-width="1"/>
<path d="M240.0 64.2V77.5M255.0 64.2V77.5" stroke="#d4d4d4" stroke-width=".8"/>
<rect x="266.7" y="30.0" width="13.3" height="56.7" rx="5" fill="#d3d3d3"/>
<path d="M178.7 49.7L197.5 48.3L206.7 54.7L223.0 75.3L229.3 56.3L238.7 58.7L234.3 79.7L227.0 90.0L218.3 90.3L209.2 79.7L209.2 100.0L162.5 100.0L163.3 80.0L168.0 63.3L173.0 53.7Z" fill="#f5a13f" stroke="#f5a13f" stroke-width="1.5" stroke-linejoin="round"/>
<path d="M168.0 66.7C170.3 66.1 177.0 66.1 181.7 63.3C186.3 60.6 193.5 52.2 195.8 50.0M170.0 66.7L169.2 100" stroke="#d98a30" stroke-width=".7" fill="none"/>
<path d="M206.7 56.7C206.1 60.3 202.9 71.1 203.3 78.3C203.8 85.6 208.2 96.4 209.2 100.0" stroke="#d98a30" stroke-width=".7" fill="none"/>
<path d="M180.0 41.7L195.8 45.0L196.3 50.0L188.3 53.0L179.3 50.0Z" fill="#eeb093"/>
<path d="M181.7 20.0C183.7 16.5 186.4 16.7 190.0 16.7C193.6 16.6 200.7 16.9 203.0 19.7C205.3 22.4 203.8 29.4 203.7 33.3C203.5 37.2 203.6 40.4 202.0 43.0C200.4 45.6 197.2 48.1 194.2 48.7C191.1 49.3 186.4 48.5 183.7 46.7C181.0 44.8 178.3 41.9 178.0 37.5C177.7 33.1 179.7 23.5 181.7 20.0Z" fill="#f8c4a6"/>
<ellipse cx="176.3" cy="34.7" rx="2.6" ry="3.4" fill="#f8c4a6"/>
<path d="M172.5 18.3C173.0 16.5 174.0 15.6 175.8 14.2C177.6 12.8 181.0 10.8 183.3 10.0C185.7 9.2 187.5 8.9 190.0 9.2C192.5 9.4 196.0 11.5 198.3 11.7C200.7 11.9 203.1 9.3 204.2 10.3C205.2 11.4 205.1 15.9 204.7 18.0C204.2 20.1 203.3 22.1 201.7 22.7C200.1 23.2 197.4 22.1 195.0 21.3C192.6 20.6 189.6 17.9 187.5 18.0C185.4 18.1 183.6 19.2 182.5 21.7C181.4 24.1 182.1 30.9 181.0 32.5C179.9 34.1 177.4 32.6 176.0 31.3C174.6 30.1 173.4 27.2 172.8 25.0C172.2 22.8 172.0 20.1 172.5 18.3Z" fill="#1c2730"/>
<path d="M188.3 30.3h.6M197.5 29.7h.6" stroke="#1c2730" stroke-width="1.5" stroke-linecap="round"/>
<path d="M194.2 25.0L195.0 34.2L193.0 35.3" stroke="#7d4f3f" stroke-width=".7" fill="none"/>
<ellipse cx="192.0" cy="38.7" rx="1.2" ry="1.6" fill="#c4574a"/>
<path d="M228.0 50.0C228.1 47.6 229.2 43.2 230.8 41.7C232.4 40.1 235.9 39.7 237.5 40.8C239.1 41.9 240.5 45.6 240.7 48.3C240.8 51.1 240.1 56.2 238.3 57.5C236.6 58.8 231.7 57.6 230.0 56.3C228.3 55.1 227.9 52.4 228.0 50.0Z" fill="#f8c4a6"/>
<line x1="225.3" y1="48.3" x2="236.3" y2="38.5" stroke="#20262c" stroke-width="1.8" stroke-linecap="round"/>
</g>
</svg>
</body></html>
